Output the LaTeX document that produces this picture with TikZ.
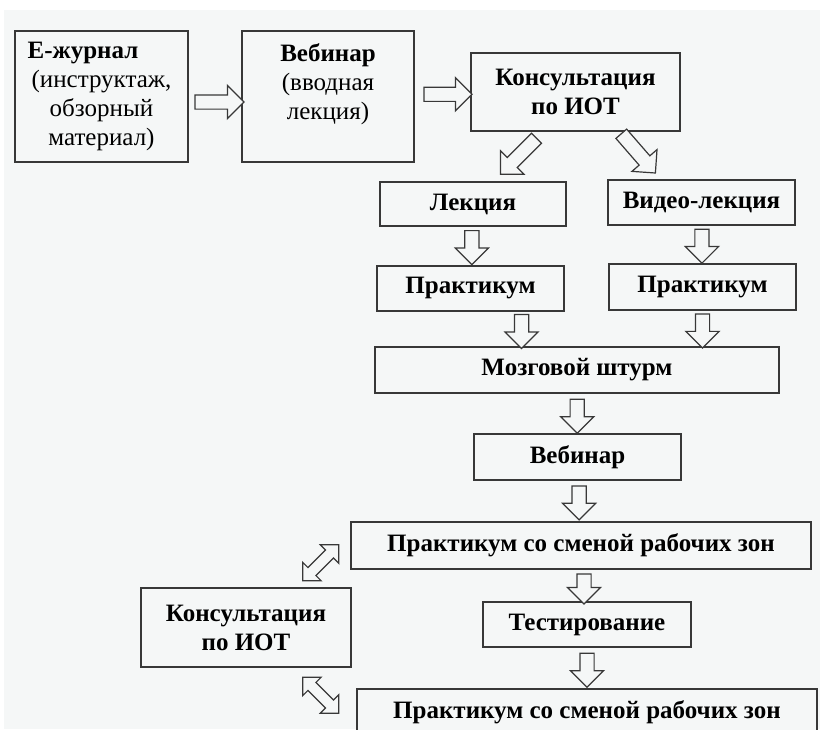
\documentclass[tikz,border=0pt]{standalone}
\usepackage{fontspec}
\setmainfont{Liberation Serif}
\usepackage{tikz}
\usetikzlibrary{shapes,shapes.arrows}
\usetikzlibrary{positioning,calc}
\definecolor{paper}{HTML}{F5F7F7}
\definecolor{ink}{HTML}{383838}
\tikzstyle{block} = [draw=ink, rectangle, fill=paper, line width=1.4pt,
    inner sep=0pt, align=center, font=\fontsize{25}{29}\selectfont\bfseries]
\tikzstyle{fatarrow} = [draw=ink, single arrow, fill=paper, line width=1.2pt,
    inner sep=6.5pt, single arrow head extend=9.5pt, single arrow tip angle=90,
    minimum height=34pt, outer sep=0pt]
\tikzstyle{fatboth} = [draw=ink, double arrow, fill=paper, line width=1.2pt,
    inner sep=5pt, double arrow head extend=7.5pt, double arrow tip angle=90,
    minimum height=51pt, outer sep=0pt]

\begin{document}
\begin{tikzpicture}[node distance = 3cm, auto]
  \useasboundingbox (0,0) rectangle (820pt,-729pt);
  \fill [white] (0,0) rectangle (820pt,-729pt);
  \fill [paper] (4pt,-10pt) rectangle (820pt,-729pt);
  % Place nodes
  \node [block, minimum width=173pt, minimum height=131pt] (ej) at (101.5pt,-96.5pt)
    {Е-журнал\hspace*{37pt}\\\textmd{(инструктаж,}\\\textmd{обзорный}\\\textmd{материал)}};
  \node [block, right of=ej, node distance=226.5pt, minimum width=172pt, minimum height=131pt] (web1)
    {Вебинар\\\textmd{(вводная}\\\textmd{лекция)}\\~};
  \node [block, right of=web1, node distance=247.5pt, yshift=4.5pt, minimum width=209pt, minimum height=78pt] (kons1)
    {Консультация\\по ИОТ};
  \node [block, below of=kons1, node distance=112pt, xshift=-102.5pt, minimum width=186pt, minimum height=44pt] (lek) {Лекция};
  \node [block, below of=kons1, node distance=110.5pt, xshift=126pt, minimum width=187pt, minimum height=45pt] (vid) {Видео-лекция};
  \node [block, below of=lek, node distance=84.5pt, xshift=-2.5pt, minimum width=187pt, minimum height=45pt] (pr1) {Практикум};
  \node [block, below of=vid, node distance=84.5pt, xshift=1pt, minimum width=187pt, minimum height=46pt] (pr2) {Практикум};
  \node [block, below of=kons1, node distance=278pt, xshift=1.5pt, minimum width=404pt, minimum height=46pt] (brain) {Мозговой штурм};
  \node [block, below of=brain, node distance=87pt, xshift=0.5pt, minimum width=207pt, minimum height=46pt] (web2) {Вебинар};
  \node [block, below of=web2, node distance=88.5pt, xshift=3.5pt, minimum width=460pt, minimum height=47pt] (prz1) {Практикум со сменой рабочих зон};
  \node [block, below of=prz1, node distance=79pt, xshift=6pt, minimum width=208pt, minimum height=45pt] (test) {Тестирование};
  \node [block, left of=test, node distance=341pt, yshift=-3pt, minimum width=210pt, minimum height=79pt] (kons2)
    {Консультация\\по ИОТ};
  \node [block, below of=test, node distance=88pt, minimum width=460pt, minimum height=47pt] (prz2) {Практикум со сменой рабочих зон};
  % Block arrows
  \node [fatarrow, minimum height=49pt] (h1) at ($(ej.east)!0.5!(web1.west)+(1pt,-5.5pt)$) {};
  \node [fatarrow, minimum height=48pt] (h2) at ($(web1.east)!0.5!(kons1.west)+(2pt,0)$) {};
  \node [fatarrow, rotate=-135, minimum height=51pt] (d1) at ($(kons1.south)+(-54.5pt,-22pt)$) {};
  \node [fatarrow, rotate=-49, minimum height=52pt] (d2) at ($(kons1.south)+(60.5pt,-19pt)$) {};
  \node [fatarrow, rotate=-90] (v1) at ($(lek.south)!0.45!(pr1.north)$) {};
  \node [fatarrow, rotate=-90] (v2) at ($(vid.south)!0.45!(pr2.north)$) {};
  \node [fatarrow, rotate=-90] (v3) at ($(pr1.south)!0.47!(brain.north)+(1pt,0)$) {};
  \node [fatarrow, rotate=-90] (v4) at ($(pr2.south)!0.47!(brain.north-|pr2.south)$) {};
  \node [fatarrow, rotate=-90] (v5) at ($(brain.south)!0.48!(web2.north)$) {};
  \node [fatarrow, rotate=-90] (v6) at ($(web2.south)!0.46!(prz1.north)$) {};
  \node [fatarrow, rotate=-90, minimum height=30pt] (v7) at ($(prz1.south)!0.5!(test.north)$) {};
  \node [fatarrow, rotate=-90] (v8) at ($(test.south)!0.47!(prz2.north)$) {};
  \node [fatboth, rotate=45] (b1) at ($(kons2.north east)+(-31pt,24.5pt)$) {};
  \node [fatboth, rotate=-45] (b2) at ($(kons2.south east)+(-31pt,-27.5pt)$) {};
\end{tikzpicture}
\end{document}
